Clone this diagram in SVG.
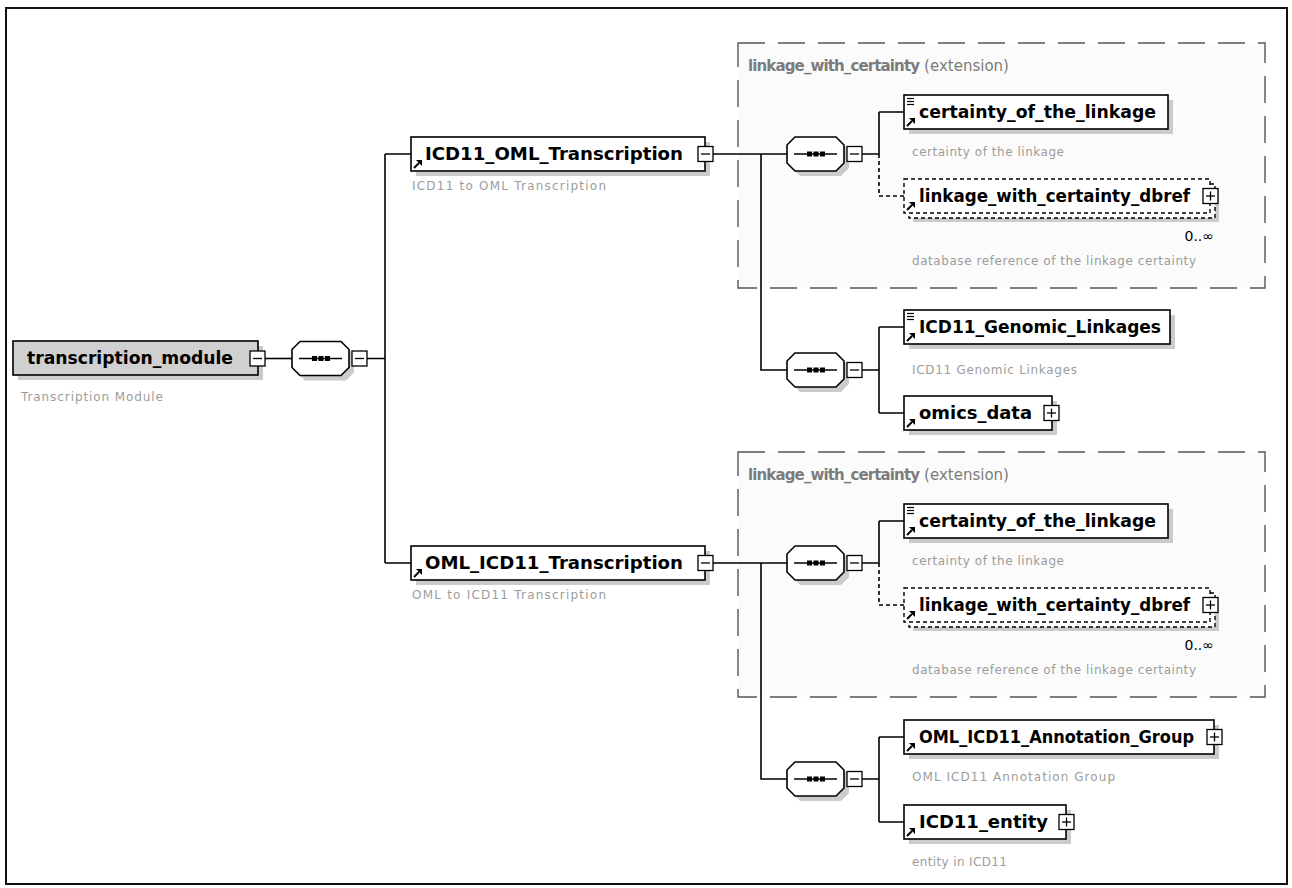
<svg xmlns="http://www.w3.org/2000/svg" width="1292" height="888" viewBox="0 0 1292 888">
<defs>
<style>
.box{fill:#fff;stroke:#000;stroke-width:1.6}
.dbox{fill:#fff;stroke:#000;stroke-width:1.4;stroke-dasharray:4 3}
.shadow{fill:#cbcbcb}
.lbl{font-family:"DejaVu Sans",Verdana,sans-serif;font-weight:bold;font-size:18px;fill:#000}
.desc{font-family:"DejaVu Sans",Verdana,sans-serif;font-size:12px;fill:#9c9c9c}
.ttl{font-family:"DejaVu Sans",Verdana,sans-serif;font-size:15px;fill:#7c7c7c}
.ext{fill:#fbfbfb;stroke:#555;stroke-width:1.4;stroke-dasharray:27 13}
.conn{fill:none;stroke:#000;stroke-width:1.6}
.dash{stroke-dasharray:4 3}
.mult{font-family:"DejaVu Sans",Verdana,sans-serif;font-size:14px;fill:#000}
</style>
<g id="minusBox">
<rect x="0" y="0" width="15" height="15" fill="#fff" stroke="#000" stroke-width="1.3"/>
<line x1="3" y1="7.5" x2="12" y2="7.5" stroke="#000" stroke-width="1.3"/>
</g>
<g id="plusBox">
<rect x="0" y="0" width="15" height="15" fill="#fff" stroke="#000" stroke-width="1.3"/>
<line x1="3" y1="7.5" x2="12" y2="7.5" stroke="#000" stroke-width="1.3"/>
<line x1="7.5" y1="3" x2="7.5" y2="12" stroke="#000" stroke-width="1.3"/>
</g>
<g id="seq">
<path d="M13,-12 H54 L62,-4 V14 L54,22 H13 L5,14 V-4 Z" fill="#cbcbcb"/>
<path d="M8,-17 H49 L57,-9 V9 L49,17 H8 L0,9 V-9 Z" fill="#fff" stroke="#000" stroke-width="1.6"/>
<line x1="7" y1="0" x2="50" y2="0" stroke="#000" stroke-width="1.6"/>
<rect x="20" y="-2.5" width="5" height="5" fill="#000"/>
<rect x="26.5" y="-2.5" width="5" height="5" fill="#000"/>
<rect x="33" y="-2.5" width="5" height="5" fill="#000"/>
<use href="#minusBox" x="60" y="-7.5"/>
</g>
<g id="arr">
<line x1="3" y1="-3" x2="8" y2="-8" stroke="#000" stroke-width="2"/>
<polygon points="5,-11 11,-11 11,-5" fill="#000"/>
</g>
<g id="eq">
<line x1="3" y1="3.5" x2="10" y2="3.5" stroke="#000" stroke-width="1.2"/>
<line x1="3" y1="6.5" x2="10" y2="6.5" stroke="#000" stroke-width="1.2"/>
<line x1="3" y1="9.5" x2="10" y2="9.5" stroke="#000" stroke-width="1.2"/>
</g>
</defs>

<rect x="0" y="0" width="1292" height="888" fill="#fff"/>
<rect x="6" y="8" width="1281" height="876" fill="#fff" stroke="#111" stroke-width="2"/>

<g id="ext-1">
<rect class="ext" x="738" y="43" width="527" height="245"/>
<text x="748" y="71"><tspan class="ttl" font-weight="bold" textLength="172">linkage_with_certainty</tspan><tspan class="ttl" dx="5">(extension)</tspan></text>
</g>
<g id="ext-2">
<rect class="ext" x="738" y="452" width="527" height="245"/>
<text x="748" y="480"><tspan class="ttl" font-weight="bold" textLength="172">linkage_with_certainty</tspan><tspan class="ttl" dx="5">(extension)</tspan></text>
</g>

<g id="connectors" class="conn">
<path d="M265,358.5 H292"/>
<path d="M367,358.5 H385 M385,154 V563 M385,154 H411 M385,563 H411"/>
<path d="M713,154 H787"/>
<path d="M862,154 H879 M879,112 V154 M879,112 H904"/>
<path class="dash" d="M879,154 V196 H904"/>
<path d="M761,154 V370 H787"/>
<path d="M862,370 H879 M879,327 V413 M879,327 H904 M879,413 H904"/>
<path d="M713,563 H787"/>
<path d="M862,563 H879 M879,521 V563 M879,521 H904"/>
<path class="dash" d="M879,563 V605 H904"/>
<path d="M761,563 V779 H787"/>
<path d="M862,779 H879 M879,737 V822 M879,737 H904 M879,822 H904"/>
</g>

<g id="n-transcription_module">
<rect class="shadow" x="18" y="346" width="245" height="34"/>
<rect x="13" y="341" width="245" height="34" fill="#d0d0d0" stroke="#000" stroke-width="1.6"/>
<text class="lbl" x="27" y="364" textLength="206" lengthAdjust="spacingAndGlyphs">transcription_module</text>
<use href="#minusBox" x="250" y="351"/>
<text class="desc" x="21" y="401" textLength="142">Transcription Module</text>
</g>

<g id="seq-main"><use href="#seq" x="292" y="358.5"/></g>

<g id="n-ICD11_OML_Transcription">
<rect class="shadow" x="416" y="142" width="294" height="34"/>
<rect class="box" x="411" y="137" width="294" height="34"/>
<use href="#arr" x="411" y="171"/>
<text class="lbl" x="425" y="160" textLength="258" lengthAdjust="spacingAndGlyphs">ICD11_OML_Transcription</text>
<use href="#minusBox" x="698" y="146.5"/>
<text class="desc" x="412" y="190" textLength="194">ICD11 to OML Transcription</text>
</g>

<g id="n-OML_ICD11_Transcription">
<rect class="shadow" x="416" y="551" width="294" height="34"/>
<rect class="box" x="411" y="546" width="294" height="34"/>
<use href="#arr" x="411" y="580"/>
<text class="lbl" x="425" y="569" textLength="258" lengthAdjust="spacingAndGlyphs">OML_ICD11_Transcription</text>
<use href="#minusBox" x="698" y="555.5"/>
<text class="desc" x="412" y="599" textLength="194">OML to ICD11 Transcription</text>
</g>

<g id="seq-2"><use href="#seq" x="787" y="154"/></g>

<g id="n-certainty_of_the_linkage-1">
<rect class="shadow" x="909" y="100" width="264" height="34"/>
<rect class="box" x="904" y="95" width="264" height="34"/>
<use href="#eq" x="904" y="95"/>
<use href="#arr" x="904" y="129"/>
<text class="lbl" x="919" y="118" textLength="237" lengthAdjust="spacingAndGlyphs">certainty_of_the_linkage</text>
<text class="desc" x="912" y="156" textLength="152">certainty of the linkage</text>
</g>

<g id="n-linkage_with_certainty_dbref-1">
<rect class="shadow" x="913" y="188" width="306" height="34"/>
<rect class="dbox" x="909" y="184" width="306" height="34"/>
<rect class="dbox" x="904" y="179" width="306" height="34"/>
<use href="#arr" x="904" y="213"/>
<text class="lbl" x="919" y="202" textLength="271" lengthAdjust="spacingAndGlyphs">linkage_with_certainty_dbref</text>
<use href="#plusBox" x="1203" y="188.5"/>
<text class="mult" x="1214" y="241" text-anchor="end">0..∞</text>
<text class="desc" x="912" y="265" textLength="284">database reference of the linkage certainty</text>
</g>

<g id="seq-3"><use href="#seq" x="787" y="370"/></g>

<g id="n-ICD11_Genomic_Linkages">
<rect class="shadow" x="909" y="315" width="266" height="34"/>
<rect class="box" x="904" y="310" width="266" height="34"/>
<use href="#eq" x="904" y="310"/>
<use href="#arr" x="904" y="344"/>
<text class="lbl" x="919" y="333" textLength="242" lengthAdjust="spacingAndGlyphs">ICD11_Genomic_Linkages</text>
<text class="desc" x="912" y="374" textLength="165">ICD11 Genomic Linkages</text>
</g>

<g id="n-omics_data">
<rect class="shadow" x="909" y="401" width="148" height="34"/>
<rect class="box" x="904" y="396" width="148" height="34"/>
<use href="#arr" x="904" y="430"/>
<text class="lbl" x="919" y="419" textLength="113" lengthAdjust="spacingAndGlyphs">omics_data</text>
<use href="#plusBox" x="1044" y="405.5"/>
</g>

<g id="seq-4"><use href="#seq" x="787" y="563"/></g>

<g id="n-certainty_of_the_linkage-2">
<rect class="shadow" x="909" y="509" width="264" height="34"/>
<rect class="box" x="904" y="504" width="264" height="34"/>
<use href="#eq" x="904" y="504"/>
<use href="#arr" x="904" y="538"/>
<text class="lbl" x="919" y="527" textLength="237" lengthAdjust="spacingAndGlyphs">certainty_of_the_linkage</text>
<text class="desc" x="912" y="565" textLength="152">certainty of the linkage</text>
</g>

<g id="n-linkage_with_certainty_dbref-2">
<rect class="shadow" x="913" y="597" width="306" height="34"/>
<rect class="dbox" x="909" y="593" width="306" height="34"/>
<rect class="dbox" x="904" y="588" width="306" height="34"/>
<use href="#arr" x="904" y="622"/>
<text class="lbl" x="919" y="611" textLength="271" lengthAdjust="spacingAndGlyphs">linkage_with_certainty_dbref</text>
<use href="#plusBox" x="1203" y="597.5"/>
<text class="mult" x="1214" y="650" text-anchor="end">0..∞</text>
<text class="desc" x="912" y="674" textLength="284">database reference of the linkage certainty</text>
</g>

<g id="seq-5"><use href="#seq" x="787" y="779"/></g>

<g id="n-OML_ICD11_Annotation_Group">
<rect class="shadow" x="909" y="725" width="310" height="34"/>
<rect class="box" x="904" y="720" width="310" height="34"/>
<use href="#arr" x="904" y="754"/>
<text class="lbl" x="919" y="743" textLength="275" lengthAdjust="spacingAndGlyphs">OML_ICD11_Annotation_Group</text>
<use href="#plusBox" x="1207" y="729.5"/>
<text class="desc" x="912" y="781" textLength="203">OML ICD11 Annotation Group</text>
</g>

<g id="n-ICD11_entity">
<rect class="shadow" x="909" y="810" width="162" height="34"/>
<rect class="box" x="904" y="805" width="162" height="34"/>
<use href="#arr" x="904" y="839"/>
<text class="lbl" x="919" y="828" textLength="129" lengthAdjust="spacingAndGlyphs">ICD11_entity</text>
<use href="#plusBox" x="1059" y="814.5"/>
<text class="desc" x="912" y="866" textLength="95">entity in ICD11</text>
</g>
</svg>
